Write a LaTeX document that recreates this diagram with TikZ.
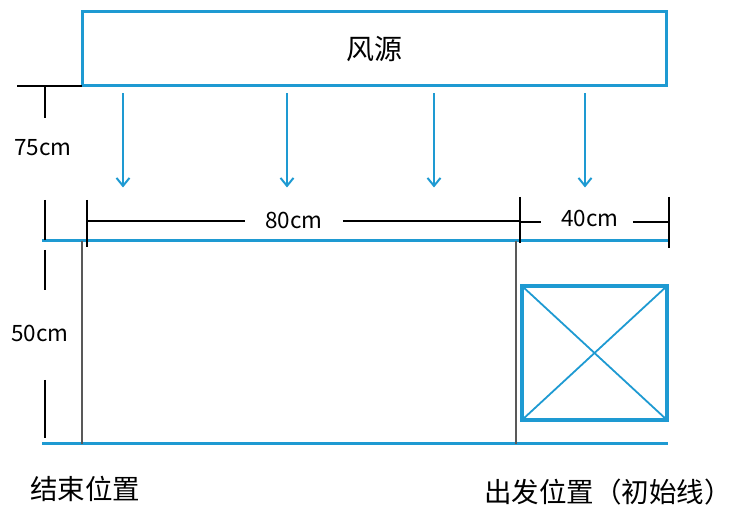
\documentclass[tikz,border=0pt]{standalone}
\usepackage{fontspec}
\setmainfont{Noto Sans CJK SC}
\usetikzlibrary{positioning,arrows.meta}
\definecolor{windblue}{HTML}{1E9AD2}
\tikzset{
    windbox/.style={draw=windblue,line width=3pt,minimum width=584pt,minimum height=74pt,font=\fontsize{28}{30}\selectfont},
    windarrow/.style={draw=windblue,line width=2pt,-{Straight Barb[length=8pt,width=13pt,line width=2pt]}},
    fieldline/.style={draw=windblue,line width=3pt},
    dim/.style={draw=black,line width=1.8pt},
    dimtext/.style={font=\fontsize{22.5}{24}\selectfont,inner sep=0pt},
    marker/.style={draw=gray!70!black,line width=1.2pt},
    place/.style={font=\fontsize{27.5}{29}\selectfont,inner sep=0pt}
}

\begin{document}
\begin{tikzpicture}[x=1pt,y=-1pt]
    \useasboundingbox (0,0) rectangle (734,510);
    % set up the nodes
    \node[windbox] (wind) at (374,49) {风源};
    \node[dimtext] (d75) at (43,148) {75cm};
    \node[dimtext] (d50) at (40,333) {50cm};
    \node[dimtext] (d80) at (294,220) {80cm};
    \node[dimtext] (d40) at (590,218) {40cm};
    \node[place,anchor=west] (finish) at (30,489) {结束位置};
    \node[place,anchor=west] (start) at (484,492) {出发位置（初始线）};
    \coordinate (fieldNW) at (42,241);
    \coordinate (fieldNE) at (668,241);
    \coordinate (fieldSW) at (42,444);
    \coordinate (fieldSE) at (668,444);
    \coordinate (boxcorner) at (82,86);
    % the field and the car
    \draw[fieldline] (fieldNW) -- (fieldNE);
    \draw[fieldline] (fieldSW) -- (fieldSE);
    \draw[marker] (82,241) -- (82,444);
    \draw[marker] (516,241) -- (516,444);
    \draw[draw=windblue,line width=3.5pt] (522,286) rectangle (667,420);
    \draw[draw=windblue,line width=1.8pt] (522,286) -- (667,420) (522,420) -- (667,286);
    % wind arrows
    \foreach \x in {123,287,434,585}
        \draw[windarrow] ([yshift=-6pt]wind.south -| \x,0) -- ++(0,94);
    % dimension marks
    \draw[dim] (17,86) -- (boxcorner);
    \draw[dim] (45,86) -- (45,118);
    \draw[dim] (45,200) -- (45,240);
    \draw[dim] (45,250) -- (45,290);
    \draw[dim] (45,380) -- (45,438);
    \draw[dim] (87,200) -- (87,247);
    \draw[dim] (87,221) -- ([xshift=-20pt]d80.west |- 0,221);
    \draw[dim] ([xshift=20pt]d80.east |- 0,221) -- (520,221);
    \draw[dim] (520,197) -- (520,243);
    \draw[dim] (520,222) -- ([xshift=-20pt]d40.west |- 0,222);
    \draw[dim] ([xshift=14pt]d40.east |- 0,222) -- (669,222);
    \draw[dim] (669,197) -- (669,248);
\end{tikzpicture}
\end{document}
